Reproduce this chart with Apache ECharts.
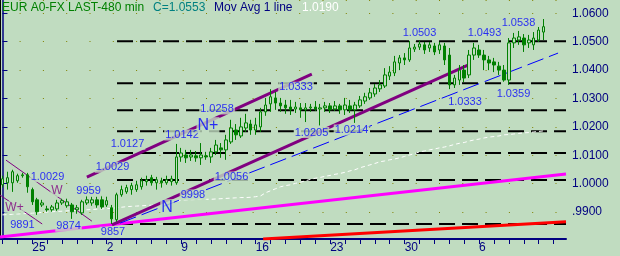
<!DOCTYPE html>
<html><head><meta charset="utf-8">
<script src="https://cdn.jsdelivr.net/npm/echarts@6/dist/echarts.min.js"></script>
<style>html,body{margin:0;padding:0;background:#c0dcc0}#c{width:620px;height:256px}</style>
</head><body><div id="c"></div>
<script>
// Trading days shown on the x axis (3 bars of 480 min per day)
const tradingDays = ['21','22','25','26','27','28','29','2','3','4','5','6','9','10','11','12','13','16','17','18','19','20','23','24','25','26','27','30','31','1','2','3','6','7','8','9','10','13'];
const mondayIdx = [2,7,12,17,22,27,32];
const barsPerDay = 3;

const open  = [0.9996,1.0003,1.0003,1.0010,1.0028,1.0031,0.9979,0.9943,0.9925,0.9911,0.9908,0.9911,0.9932,0.9922,0.9925,0.9908,0.9897,0.9932,0.9932,0.9943,0.9943,0.9925,0.9915,0.9873,0.9961,0.9971,0.9979,0.9979,0.9989,1.0007,1.0021,1.0003,1.0010,1.0003,1.0007,1.0003,1.0094,1.0101,1.0094,1.0098,1.0091,1.0098,1.0094,1.0112,1.0126,1.0119,1.0147,1.0189,1.0168,1.0196,1.0210,1.0189,1.0200,1.0253,1.0281,1.0302,1.0284,1.0277,1.0270,1.0263,1.0267,1.0260,1.0267,1.0270,1.0263,1.0267,1.0274,1.0263,1.0274,1.0260,1.0274,1.0260,1.0274,1.0291,1.0302,1.0316,1.0334,1.0344,1.0379,1.0390,1.0425,1.0443,1.0436,1.0474,1.0481,1.0489,1.0478,1.0485,1.0471,1.0485,1.0453,1.0348,1.0365,1.0400,1.0383,1.0453,1.0471,1.0453,1.0436,1.0429,1.0414,1.0400,1.0365,1.0496,1.0506,1.0513,1.0496,1.0489,1.0506,1.0534];
const close = [1.0017,1.0021,1.0042,1.0028,1.0031,0.9989,0.9936,0.9901,0.9932,0.9908,0.9918,0.9932,0.9940,0.9936,0.9901,0.9915,0.9936,0.9943,0.9943,0.9925,0.9918,0.9940,0.9876,0.9961,0.9979,0.9986,0.9993,0.9996,1.0010,1.0014,1.0003,1.0014,1.0003,1.0014,1.0017,1.0094,1.0108,1.0091,1.0101,1.0091,1.0101,1.0094,1.0112,1.0136,1.0119,1.0154,1.0196,1.0172,1.0200,1.0214,1.0189,1.0207,1.0253,1.0277,1.0306,1.0284,1.0274,1.0267,1.0260,1.0270,1.0260,1.0267,1.0270,1.0263,1.0267,1.0274,1.0260,1.0274,1.0260,1.0277,1.0260,1.0277,1.0295,1.0306,1.0320,1.0337,1.0348,1.0383,1.0393,1.0429,1.0443,1.0436,1.0478,1.0481,1.0492,1.0471,1.0489,1.0464,1.0489,1.0436,1.0348,1.0372,1.0400,1.0372,1.0453,1.0478,1.0453,1.0436,1.0425,1.0418,1.0400,1.0365,1.0496,1.0513,1.0517,1.0489,1.0506,1.0513,1.0541,1.0553];
const low   = [0.9986,0.9979,0.9971,1.0003,1.0021,0.9968,0.9925,0.9890,0.9918,0.9901,0.9901,0.9904,0.9925,0.9915,0.9876,0.9894,0.9890,0.9925,0.9922,0.9915,0.9911,0.9918,0.9858,0.9866,0.9954,0.9964,0.9961,0.9971,0.9979,0.9993,0.9993,0.9979,0.9986,0.9996,0.9993,0.9996,1.0077,1.0073,1.0080,1.0077,1.0066,1.0084,1.0073,1.0101,1.0091,1.0084,1.0140,1.0154,1.0161,1.0182,1.0172,1.0172,1.0182,1.0239,1.0253,1.0260,1.0253,1.0246,1.0242,1.0249,1.0232,1.0217,1.0253,1.0256,1.0205,1.0253,1.0249,1.0256,1.0246,1.0242,1.0249,1.0214,1.0267,1.0281,1.0295,1.0306,1.0323,1.0337,1.0365,1.0379,1.0400,1.0418,1.0429,1.0464,1.0471,1.0457,1.0464,1.0453,1.0457,1.0418,1.0333,1.0337,1.0348,1.0358,1.0372,1.0436,1.0443,1.0400,1.0400,1.0393,1.0383,1.0359,1.0348,1.0478,1.0489,1.0464,1.0478,1.0471,1.0499,1.0506];
const high  = [1.0028,1.0042,1.0049,1.0035,1.0038,1.0038,0.9986,0.9950,0.9943,0.9922,0.9925,0.9943,0.9947,0.9947,0.9932,0.9925,0.9943,0.9957,0.9954,0.9954,0.9957,0.9954,0.9925,0.9968,0.9993,0.9996,1.0003,1.0010,1.0021,1.0028,1.0031,1.0024,1.0021,1.0028,1.0028,1.0140,1.0126,1.0119,1.0119,1.0115,1.0143,1.0112,1.0126,1.0154,1.0143,1.0172,1.0225,1.0210,1.0232,1.0246,1.0225,1.0232,1.0267,1.0302,1.0333,1.0323,1.0302,1.0295,1.0295,1.0288,1.0284,1.0284,1.0281,1.0291,1.0281,1.0288,1.0284,1.0291,1.0281,1.0302,1.0295,1.0288,1.0309,1.0320,1.0337,1.0351,1.0365,1.0407,1.0414,1.0450,1.0453,1.0460,1.0503,1.0492,1.0503,1.0499,1.0499,1.0496,1.0499,1.0496,1.0478,1.0383,1.0418,1.0418,1.0471,1.0496,1.0489,1.0471,1.0450,1.0443,1.0429,1.0418,1.0513,1.0531,1.0538,1.0527,1.0524,1.0534,1.0552,1.0580];

// White dashed moving average
const movAvg = [0.9890,0.9891,0.9892,0.9893,0.9894,0.9895,0.9896,0.9897,0.9899,0.9900,0.9901,0.9902,0.9903,0.9904,0.9905,0.9906,0.9907,0.9908,0.9909,0.9910,0.9911,0.9912,0.9913,0.9915,0.9917,0.9919,0.9920,0.9921,0.9922,0.9923,0.9924,0.9925,0.9927,0.9930,0.9934,0.9938,0.9941,0.9942,0.9943,0.9944,0.9944,0.9945,0.9945,0.9946,0.9947,0.9948,0.9949,0.9950,0.9951,0.9951,0.9952,0.9954,0.9957,0.9968,0.9975,0.9982,0.9989,0.9993,0.9996,1.0001,1.0005,1.0010,1.0015,1.0019,1.0022,1.0026,1.0029,1.0033,1.0036,1.0040,1.0045,1.0049,1.0056,1.0061,1.0066,1.0071,1.0077,1.0080,1.0084,1.0087,1.0091,1.0096,1.0101,1.0106,1.0112,1.0115,1.0119,1.0122,1.0126,1.0129,1.0133,1.0138,1.0142,1.0145,1.0150,1.0154,1.0157,1.0161,1.0164,1.0166,1.0168,1.0172,1.0173,1.0175,1.0177,1.0179,1.0180,1.0182,1.0184,1.0186];

// Drawn trendlines: [bar position, price]
const lineMagenta = [[-0.5,0.9812],[113.5,1.0034]];
const lineRed     = [[52.5,0.9805],[113.5,0.9866]];
const lineUpper   = [[17.0,1.0023],[62.3,1.0386]];
const lineLower   = [[22.06,0.9855],[94.2,1.0421]];
const lineBlue    = [[23.7,0.9861],[111.9,1.0460]];
const lineThin1   = [[0.7,1.0083],[18.0,0.9868]];
const lineThin2   = [[-0.5,0.9960],[8.0,0.9858]];
// Horizontal dashed levels (start bar, price)
const levelStart = 23.07;
const levels = [1.0502,1.0354,1.0259,1.0185,1.0108,1.0013,0.9858];

// Annotation texts: [bar position, price, text]
const notesBlue = [[9.07,1.0024,'1.0029'],[4.03,0.9854,'9891'],[13.3,0.9850,'9874'],[17.33,0.9974,'9959'],[22.26,0.9829,'9857'],[22.16,1.0058,'1.0029'],[25.18,1.0139,'1.0127'],[36.16,1.0171,'1.0142'],[38.37,0.9960,'9998'],[43.21,1.0263,'1.0258'],[59.12,1.0340,'1.0333'],[62.24,1.0180,'1.0205'],[70.3,1.0189,'1.0214'],[46.13,1.0023,'1.0056'],[84.0,1.0531,'1.0503'],[97.08,1.0531,'1.0493'],[103.93,1.0566,'1.0538'],[93.16,1.0287,'1.0333'],[102.93,1.0316,'1.0359']];
const notesBig = [[41.39,1.0206,'N+'],[33.14,0.9917,'N']];
const notesPurple = [[10.98,0.9974,'W'],[2.42,0.9917,'W+']];

const BG = '#c0dcc0';
const categories = [];
tradingDays.forEach((d, di) => { for (let k = 0; k < barsPerDay; k++) categories.push(d + '|' + di + '|' + k); });
const candles = open.map((o, i) => [o, close[i], low[i], high[i]]);

function lineSeries(data, color, width, type, z) {
  return { type: 'line', xAxisIndex: 1, yAxisIndex: 0, data: data, showSymbol: false, symbol: 'none', silent: true,
    lineStyle: { color: color, width: width, type: type || 'solid' }, z: z || 3, animation: false };
}
function noteSeries(data, color, size, z) {
  return { type: 'scatter', xAxisIndex: 1, yAxisIndex: 0, symbolSize: 1, itemStyle: { color: 'rgba(0,0,0,0)' }, silent: true, z: z || 10,
    data: data.map(n => ({ value: [n[0], n[1]], name: n[2] })),
    label: { show: true, position: 'inside', formatter: '{b}', color: color, fontSize: size, fontFamily: 'Liberation Sans, Arial, sans-serif',
      backgroundColor: BG, padding: [0, 1] }, animation: false };
}

const series = [
  { type: 'line', xAxisIndex: 0, yAxisIndex: 0, data: movAvg, showSymbol: false, symbol: 'none', silent: true,
    lineStyle: { color: '#ffffff', width: 1, type: [4, 3] }, z: 2, animation: false },
  { type: 'candlestick', xAxisIndex: 0, yAxisIndex: 0, data: candles, barWidth: 3, z: 4, animation: false,
    itemStyle: { color: BG, color0: '#008000', borderColor: '#008000', borderColor0: '#008000', borderWidth: 1 } },
  lineSeries(lineMagenta, '#ff00ff', 3),
  lineSeries(lineRed, '#ff0000', 3),
  lineSeries(lineUpper, '#800080', 3),
  lineSeries(lineLower, '#800080', 3),
  lineSeries(lineBlue, '#0000ff', 1, [17, 6]),
  lineSeries(lineThin1, '#800080', 1),
  lineSeries(lineThin2, '#800080', 1)
];
levels.forEach(v => series.push(lineSeries([[levelStart, v], [113.5, v]], '#000000', 2, [16, 7], 1)));
series.push(noteSeries(notesBlue, '#0000ff', 11));
series.push(noteSeries(notesBig, '#0000ff', 16));
series.push(noteSeries(notesPurple, '#800080', 12));

const chart = echarts.init(document.getElementById('c'), null, { renderer: 'canvas' });
chart.setOption({
  backgroundColor: BG,
  animation: false,
  textStyle: { fontFamily: 'Liberation Sans, Arial, sans-serif' },
  title: [
    { text: 'EUR A0-FX LAST-480 min', left: 2, top: 2, padding: 0, textStyle: { color: '#008000', fontSize: 12, fontWeight: 'normal' } },
    { text: 'C=1.0553', left: 153, top: 2, padding: 0, textStyle: { color: '#008080', fontSize: 12, fontWeight: 'normal' } },
    { text: 'Mov Avg 1 line', left: 214, top: 2, padding: 0, textStyle: { color: '#000080', fontSize: 12, fontWeight: 'normal' } },
    { text: '1.0190', left: 302, top: 2, padding: 0, textStyle: { color: '#ffffff', fontSize: 12, fontWeight: 'normal' } }
  ],
  grid: { left: 0, right: 54, top: 0, bottom: 17, containLabel: false },
  xAxis: [
    { type: 'category', data: categories, boundaryGap: true, position: 'bottom',
      axisLine: { show: true, onZero: false, lineStyle: { color: '#000080', width: 2 } },
      axisTick: { show: true, alignWithLabel: true, length: 5, interval: (i) => i % barsPerDay === 0, lineStyle: { color: '#000080', width: 1 } },
      axisLabel: { show: true, color: '#000080', fontSize: 12, margin: 3, align: 'left',
        interval: (i) => i % barsPerDay === 0 && mondayIdx.indexOf(i / barsPerDay) >= 0,
        formatter: (v) => v.split('|')[0] },
      splitLine: { show: false } },
    { type: 'value', min: -0.5, max: 113.5, show: false }
  ],
  yAxis: [
    { type: 'value', position: 'right', min: 0.9805, max: 1.0647, minInterval: 0.01, maxInterval: 0.01, scale: true,
      axisLine: { show: true, lineStyle: { color: '#000080', width: 1.5 } },
      axisTick: { show: true, length: 5, lineStyle: { color: '#000080' } },
      axisLabel: { color: '#000080', fontSize: 12, margin: 6, showMinLabel: false, showMaxLabel: false,
        formatter: (v) => { const s = v.toFixed(4); return s.charAt(0) === '0' ? s.slice(1) : s; } },
      splitLine: { show: true, lineStyle: { color: '#808000', width: 1, type: [1, 22.3], dashOffset: 3.7 } } },
    { type: 'value', position: 'left', min: 0.9805, max: 1.0647, show: true,
      axisLine: { show: true, onZero: false, lineStyle: { color: '#000000', width: 2 } },
      axisTick: { show: false }, axisLabel: { show: false }, splitLine: { show: false } }
  ],
  series: series
});
</script>
</body></html>
